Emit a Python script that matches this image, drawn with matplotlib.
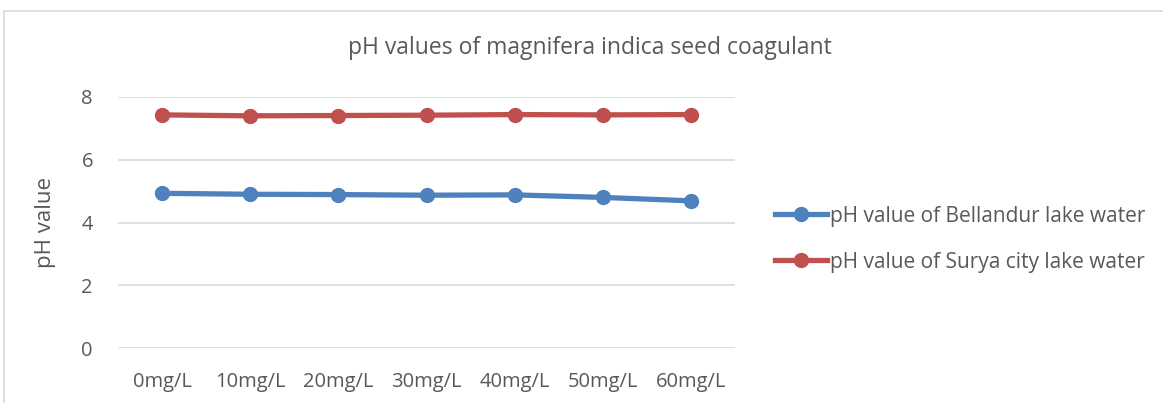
import matplotlib.pyplot as plt
from matplotlib.patches import Rectangle

# Data
categories = ["0mg/L", "10mg/L", "20mg/L", "30mg/L", "40mg/L", "50mg/L", "60mg/L"]
bellandur = [4.93, 4.90, 4.89, 4.87, 4.88, 4.80, 4.69]
surya = [7.43, 7.40, 7.41, 7.42, 7.44, 7.43, 7.44]

plt.rcParams["font.family"] = ["Open Sans", "DejaVu Sans"]
text_color = "#595959"

fig = plt.figure(figsize=(11.63, 4.03), dpi=100)

# Outer chart border (cut off at bottom and right)
fig.patches.append(Rectangle((4 / 1163, -0.1), 1.2, 1 - 11 / 403 + 0.1,
                             transform=fig.transFigure, fill=False,
                             edgecolor="#D9D9D9", linewidth=1.2))

ax = fig.add_axes([118 / 1163, 1 - 348 / 403, 617 / 1163, 251 / 403])
x = range(len(categories))
ax.plot(x, bellandur, color="#4F81BD", linewidth=3.8, marker="o", markersize=10,
        label="pH value of Bellandur lake water")
ax.plot(x, surya, color="#C0504D", linewidth=3.8, marker="o", markersize=10,
        label="pH value of Surya city lake water")

ax.set_xlim(-0.5, 6.5)
ax.set_ylim(0, 8)
ax.set_yticks([0, 2, 4, 6, 8])
ax.set_xticks(list(x))
ax.set_xticklabels(categories)
ax.grid(axis="y", color="#D9D9D9", linewidth=1.2)
ax.set_axisbelow(True)
for s in ax.spines.values():
    s.set_visible(False)
ax.tick_params(length=0, labelsize=14.5, colors=text_color)
ax.tick_params(axis="x", pad=17)
ax.tick_params(axis="y", pad=18)

ax.set_ylabel("pH value", fontsize=16, color=text_color, labelpad=18)
fig.text(590 / 1163, 1 - 48 / 403,
         "pH values of magnifera indica seed coagulant",
         ha="center", va="center", fontsize=16.5, color=text_color)

leg = ax.legend(loc="center left", bbox_to_anchor=(1.035, 0.434), frameon=False,
                fontsize=15, labelcolor=text_color, handlelength=2.5,
                handletextpad=0.1, labelspacing=1.2)

fig.savefig("out.png", dpi=100, facecolor="white")
